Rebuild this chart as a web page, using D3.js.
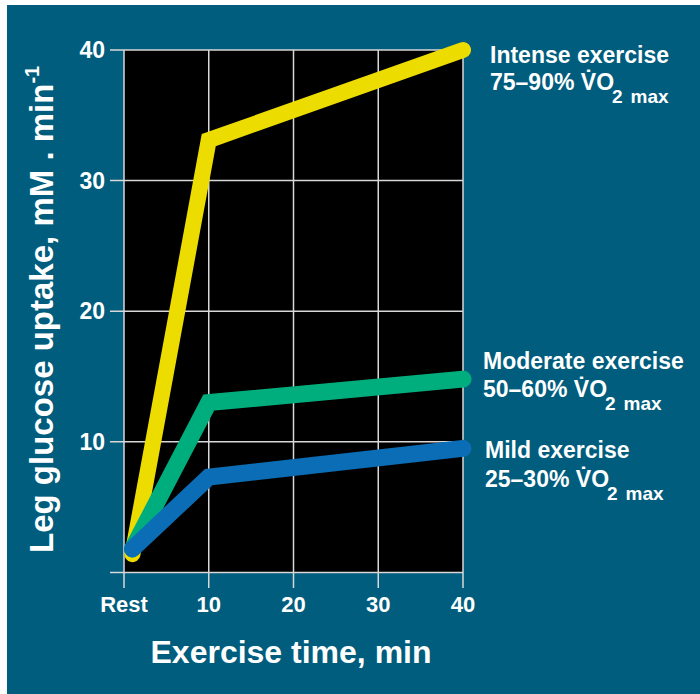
<!DOCTYPE html>
<html><head><meta charset="utf-8">
<script src="https://cdn.jsdelivr.net/npm/d3@7"></script>
<style>
body{margin:0;background:#fff;}
text{font-family:"Liberation Sans",Arial,Helvetica,sans-serif;font-weight:bold;fill:#fff;}
</style></head>
<body><svg id="c" width="700" height="694"></svg>
<script>
const xTicks = [0, 10, 20, 30, 40];
const xTickLabels = ["Rest", "10", "20", "30", "40"];
const yTicks = [0, 10, 20, 30, 40];
const yTickLabels = ["", "10", "20", "30", "40"];
const times = [1, 10, 40];
const intense = [1.4, 33.1, 40.0];
const moderate = [1.8, 13.0, 14.8];
const mild = [1.8, 7.3, 9.5];
const seriesNames = ["Intense exercise", "Moderate exercise", "Mild exercise"];
const seriesRanges = ["75–90% ", "50–60% ", "25–30% "];
const seriesColors = ["#ecdc00", "#00ae7d", "#0a6db5"];

const svg = d3.select("#c");
svg.append("rect").attr("x",7).attr("y",5).attr("width",693).attr("height",689).attr("fill","#005d7d");

const L=124,R=463,T=50,B=572.4;
const x = d3.scaleLinear().domain([0,40]).range([L,R]);
const y = d3.scaleLinear().domain([0,40]).range([B,T]);

svg.append("rect").attr("x",L).attr("y",T).attr("width",R-L).attr("height",B-T).attr("fill","#000");

const gridColor="#d8d8d8";
svg.append("g").selectAll("line").data(yTicks).join("line")
  .attr("x1",110).attr("x2",R)
  .attr("y1",d=>y(d)).attr("y2",d=>y(d))
  .attr("stroke",gridColor).attr("stroke-width",1.5);
svg.append("g").selectAll("line").data(xTicks).join("line")
  .attr("x1",d=>x(d)).attr("x2",d=>x(d))
  .attr("y1",T).attr("y2",588)
  .attr("stroke",gridColor).attr("stroke-width",1.5);

svg.append("g").selectAll("text").data(yTicks).join("text")
  .attr("x",105).attr("y",d=>y(d)).attr("dy","0.36em")
  .attr("text-anchor","end").attr("font-size",23)
  .text((d,i)=>yTickLabels[i]);
svg.append("g").selectAll("text").data(xTicks).join("text")
  .attr("x",d=>x(d)).attr("y",612)
  .attr("text-anchor","middle").attr("font-size",22)
  .text((d,i)=>xTickLabels[i]);

svg.append("text").attr("x",291).attr("y",663).attr("text-anchor","middle")
  .attr("font-size",32).text("Exercise time, min");

const yt = svg.append("text").attr("transform","translate(53,553) rotate(-90)")
  .attr("text-anchor","start").attr("font-size",33);
yt.append("tspan").text("Leg glucose uptake, mM . min");
yt.append("tspan").attr("font-size",20).attr("dy",-14).text("-1");

const line = d3.line().x((d,i)=>x(times[i])).y(d=>y(d));
[intense, moderate, mild].forEach((s,k)=>{
  svg.append("path").attr("d",line(s)).attr("fill","none")
    .attr("stroke",seriesColors[k]).attr("stroke-width",k===0?16:17)
    .attr("stroke-linecap","round").attr("stroke-linejoin","miter");
});

const labelPos = [[490,63,90],[483,369,397],[485,458,487]];
seriesNames.forEach((n,k)=>{
  const [lx,b1,b2]=labelPos[k];
  svg.append("text").attr("x",lx).attr("y",b1).attr("font-size",23).text(n);
  const t = svg.append("text").attr("x",lx).attr("y",b2).attr("font-size",23);
  t.append("tspan").text(seriesRanges[k]+"V\u0307O");
  t.append("tspan").attr("font-size",19).attr("dy",13).attr("dx",-2).text("2");
  t.append("tspan").attr("font-size",19).attr("dx",8).text("max");
});
</script></body></html>
